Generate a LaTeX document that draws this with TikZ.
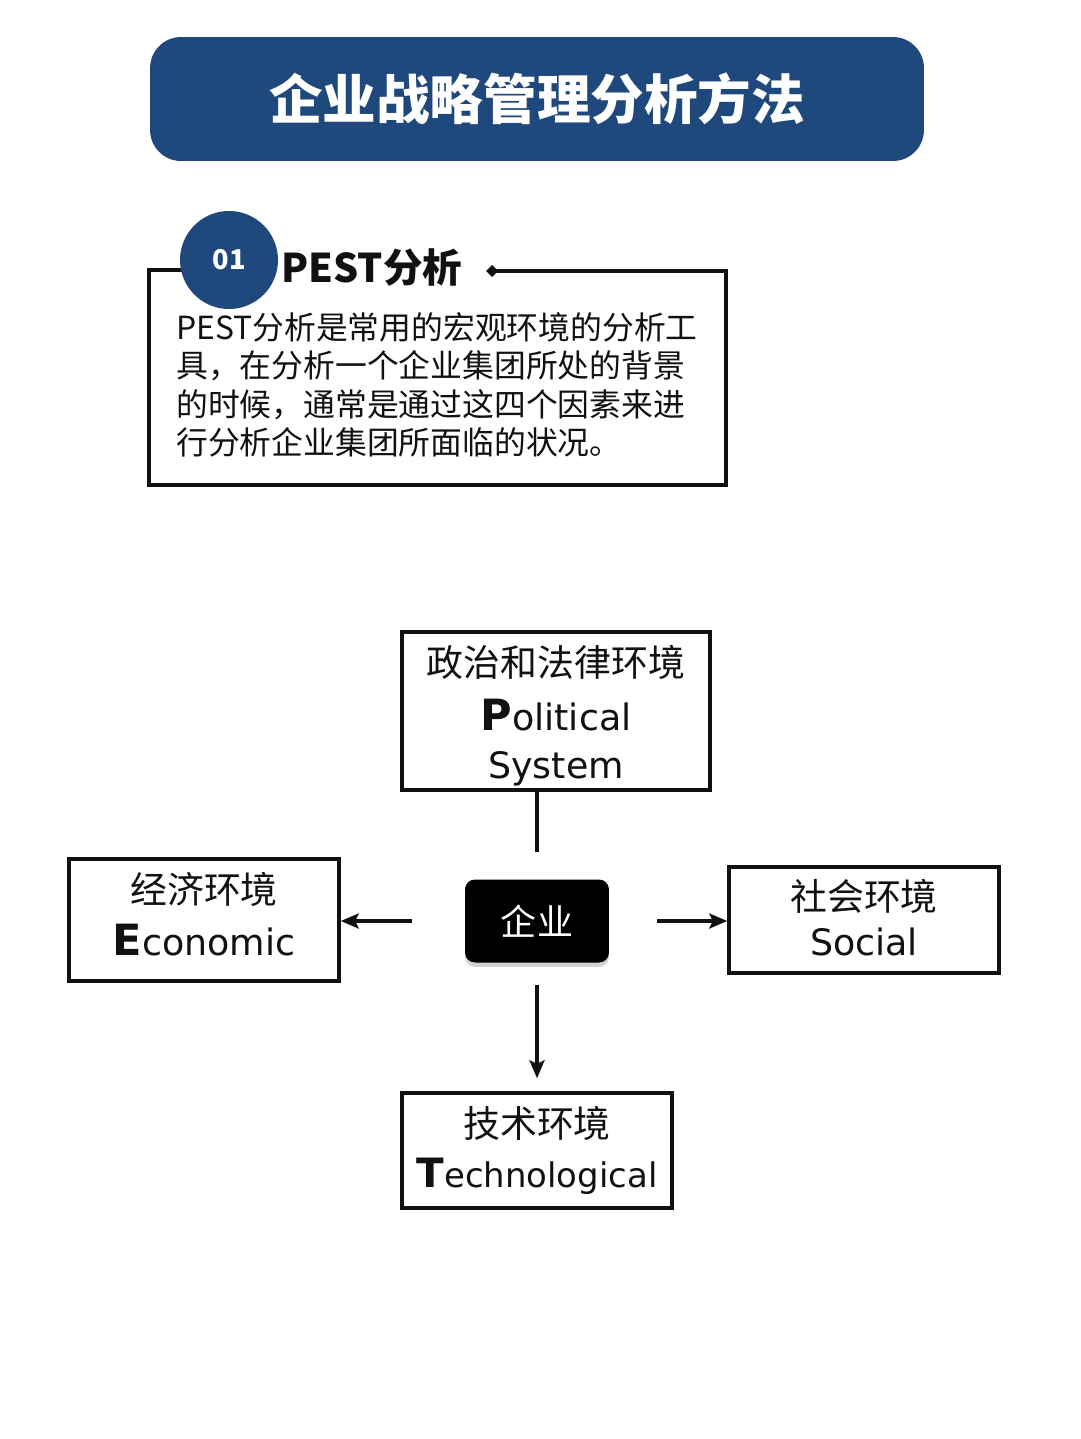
\documentclass[tikz,border=0pt]{standalone}
\usepackage{fontspec}
\setmainfont{DejaVu Sans}
\newfontfamily\cjk{Noto Sans CJK SC}
\usetikzlibrary{arrows.meta,shadows}
\definecolor{pestblue}{HTML}{1F487C}
\definecolor{pestink}{HTML}{111111}
\newcommand{\bigini}[1]{{\fontsize{24.5}{28}\selectfont\bfseries #1}}

\begin{document}
\begin{tikzpicture}[
        x=0.02cm, y=-0.02cm,
        every node/.style={font=\fontsize{20.7}{28}\selectfont, text=pestink},
        banner/.style={
          fill=pestblue, text=white, rounded corners=0.62cm,
          minimum width=15.48cm, minimum height=2.48cm,
          font=\cjk\bfseries\fontsize{30.5}{36}\selectfont,
        },
        num/.style={
          circle, fill=pestblue, text=white, minimum size=1.96cm,
          font=\cjk\bfseries\fontsize{15.5}{18}\selectfont,
        },
        head/.style={font=\cjk\bfseries\fontsize{22.5}{26}\selectfont, inner sep=0pt},
        body/.style={font=\cjk\fontsize{18.1}{21.9}\selectfont, align=left, inner sep=0pt},
        frame/.style={draw=pestink, line width=2pt},
        env/.style={
          draw=pestink, line width=2pt, fill=white,
          minimum width=5.4cm, align=center, inner sep=0pt,
        },
        core/.style={
          fill=black, text=white, rounded corners=0.2cm,
          minimum width=2.88cm, minimum height=1.66cm,
          font=\cjk\fontsize{20.5}{24}\selectfont,
          drop shadow={opacity=0.35, shadow xshift=0pt, shadow yshift=-2.5pt},
        },
        arr/.style={-{Stealth[length=0.36cm, width=0.3cm, inset=0.07cm]}, draw=pestink, line width=1.9pt},
        link/.style={draw=pestink, line width=1.9pt},
      ]
      \useasboundingbox[fill=white] (0,0) rectangle (1080,1439);

      % title
      \node[banner] (title) at (537,99) {企业战略管理分析方法};

      % intro box
      \draw[frame] (492,271) -- (726,271) |- (149,485) |- (200,270);
      \fill[pestink] (492,265) -- (498,271) -- (492,277) -- (486,271) -- cycle;
      \node[num] (n01) at (229,260) {01};
      \node[head, anchor=west] (pest) at (281,268) {PEST分析};
      \node[body, anchor=north west] (desc) at (176,312)
        {PEST分析是常用的宏观环境的分析工\\
         具，在分析一个企业集团所处的背景\\
         的时候，通常是通过这四个因素来进\\
         行分析企业集团所面临的状况。};

      % PEST diagram
      \node[env, minimum width=6.16cm, minimum height=3.16cm] (pol) at (556,711)
        {{\cjk\fontsize{21}{28}\selectfont\rule{0pt}{23pt}政治和法律环境}\\[2.8pt]\bigini{P}olitical\\[-1.2pt]System};
      \node[core] (core) at (537,921) {企业};
      \node[env, minimum height=2.44cm] (eco) at (204,920)
        {{\cjk\fontsize{21}{28}\selectfont 经济环境}\\[1.7pt]\bigini{E}conomic\rule[-6.8pt]{0pt}{0pt}};
      \node[env, minimum height=2.12cm] (soc) at (864,920)
        {{\cjk\fontsize{21}{28}\selectfont 社会环境}\\[-2.8pt]Social\rule[-3pt]{0pt}{0pt}};
      \node[env, minimum height=2.3cm] (tec) at (537,1150.5)
        {{\cjk\fontsize{21}{28}\selectfont 技术环境}\\
         {\fontsize{19.3}{28}\selectfont{\fontsize{23}{28}\selectfont\bfseries T}echnological}};

      \draw[link, shorten >=0.54cm] (pol.south -| core) -- (core.north);
      \draw[arr, shorten <=1.06cm] (core.west) -- (eco.east |- core.west);
      \draw[arr, shorten <=0.96cm] (core.east) -- (soc.west |- core.east);
      \draw[arr, shorten <=0.44cm, shorten >=0.26cm] (core.south) -- (tec.north);
    \end{tikzpicture}
\end{document}
